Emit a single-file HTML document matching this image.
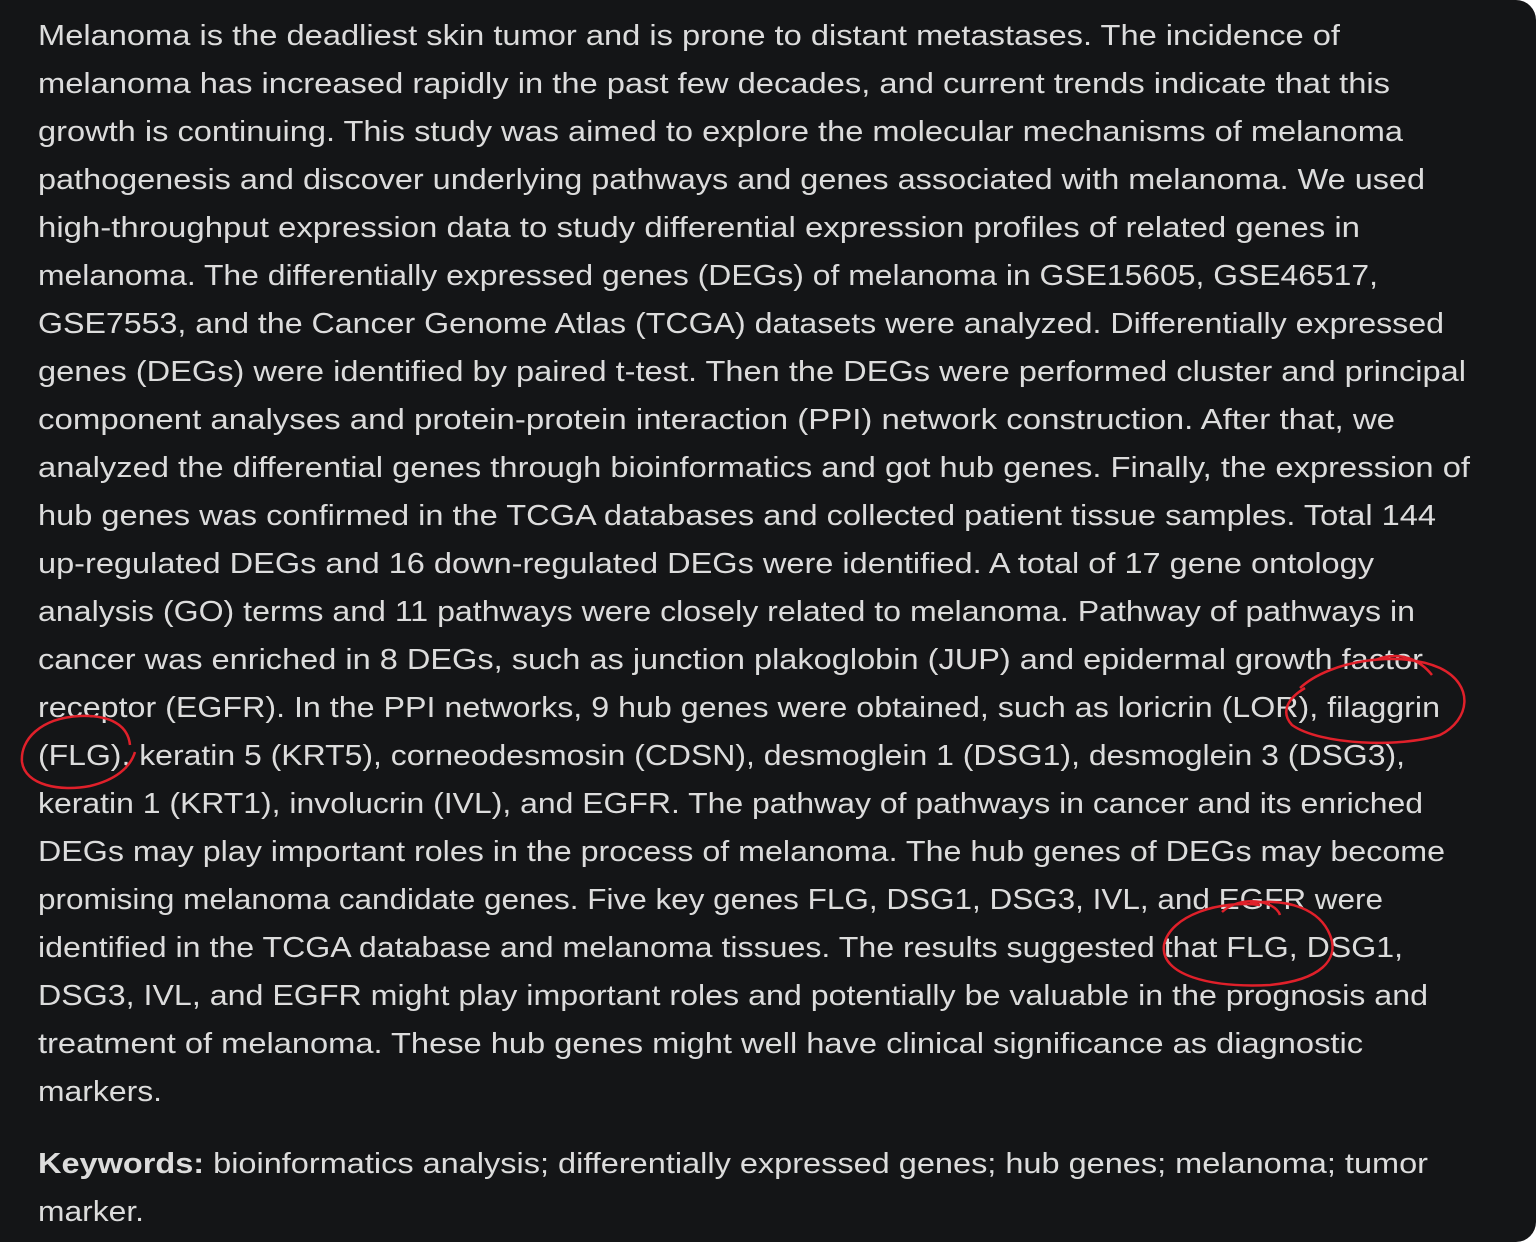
<!DOCTYPE html>
<html><head><meta charset="utf-8"><style>
html,body{margin:0;padding:0;background:#fff;width:1536px;height:1242px;overflow:hidden}
svg{display:block}
text{font-family:"Liberation Sans",sans-serif;font-size:29px;fill:#dcdcdc}
</style></head><body>
<svg width="1536" height="1242">
<rect x="0" y="0" width="1536" height="1242" rx="0" fill="#141517"/>
<path d="M1516 0 H1536 V20 A20 20 0 0 0 1516 0Z M1536 1222 V1242 H1516 A20 20 0 0 0 1536 1222Z" fill="#fff"/>
<g id="lines"></g>
<g fill="none" stroke="#e0202a" stroke-width="2.5">
<path d="M130 745 C128 725 110 715 80 716 C40 718 20 740 22 762 C25 785 60 792 90 786 C115 780 130 768 135 752"/>
<path d="M1300 688 C1330 660 1400 650 1440 668 C1475 685 1470 720 1440 735 C1400 748 1320 745 1292 725 C1280 712 1288 698 1305 688 M1375 660 C1400 650 1420 660 1432 675"/>
<path d="M1260 905 C1220 900 1170 915 1164 945 C1160 975 1210 988 1270 985 C1320 980 1340 960 1330 935 C1320 910 1290 898 1250 903 M1222 912 C1240 895 1275 900 1280 915"/>
</g>
</svg>
<script>
const lines=[
["Melanoma is the deadliest skin tumor and is prone to distant metastases. The incidence of",1340],
["melanoma has increased rapidly in the past few decades, and current trends indicate that this",1390],
["growth is continuing. This study was aimed to explore the molecular mechanisms of melanoma",1403],
["pathogenesis and discover underlying pathways and genes associated with melanoma. We used",1425],
["high-throughput expression data to study differential expression profiles of related genes in",1360],
["melanoma. The differentially expressed genes (DEGs) of melanoma in GSE15605, GSE46517,",1378],
["GSE7553, and the Cancer Genome Atlas (TCGA) datasets were analyzed. Differentially expressed",1444],
["genes (DEGs) were identified by paired t-test. Then the DEGs were performed cluster and principal",1466],
["component analyses and protein-protein interaction (PPI) network construction. After that, we",1395],
["analyzed the differential genes through bioinformatics and got hub genes. Finally, the expression of",1470],
["hub genes was confirmed in the TCGA databases and collected patient tissue samples. Total 144",1436],
["up-regulated DEGs and 16 down-regulated DEGs were identified. A total of 17 gene ontology",1374],
["analysis (GO) terms and 11 pathways were closely related to melanoma. Pathway of pathways in",1415],
["cancer was enriched in 8 DEGs, such as junction plakoglobin (JUP) and epidermal growth factor",1423],
["receptor (EGFR). In the PPI networks, 9 hub genes were obtained, such as loricrin (LOR), filaggrin",1440],
["(FLG), keratin 5 (KRT5), corneodesmosin (CDSN), desmoglein 1 (DSG1), desmoglein 3 (DSG3),",1405],
["keratin 1 (KRT1), involucrin (IVL), and EGFR. The pathway of pathways in cancer and its enriched",1423],
["DEGs may play important roles in the process of melanoma. The hub genes of DEGs may become",1445],
["promising melanoma candidate genes. Five key genes FLG, DSG1, DSG3, IVL, and EGFR were",1383],
["identified in the TCGA database and melanoma tissues. The results suggested that FLG, DSG1,",1403],
["DSG3, IVL, and EGFR might play important roles and potentially be valuable in the prognosis and",1428],
["treatment of melanoma. These hub genes might well have clinical significance as diagnostic",1363],
["markers.",162]];
const g=document.getElementById('lines');
const NS='http://www.w3.org/2000/svg';
function add(txt,end,y,bold){
 const t=document.createElementNS(NS,'text');
 
 
 t.setAttribute('x',38);t.setAttribute('y',y);
 t.setAttribute('textLength',end-38);t.setAttribute('lengthAdjust','spacingAndGlyphs');
 if(bold){const s=document.createElementNS(NS,'tspan');s.setAttribute('font-weight','bold');s.textContent=bold;t.appendChild(s);t.appendChild(document.createTextNode(txt));}
 else t.textContent=txt;
 g.appendChild(t);
}
lines.forEach((l,i)=>add(l[0],l[1],45+i*48));
add(" bioinformatics analysis; differentially expressed genes; hub genes; melanoma; tumor",1428,1173,"Keywords:");
add("marker.",144,1221);
</script>
</body></html>
